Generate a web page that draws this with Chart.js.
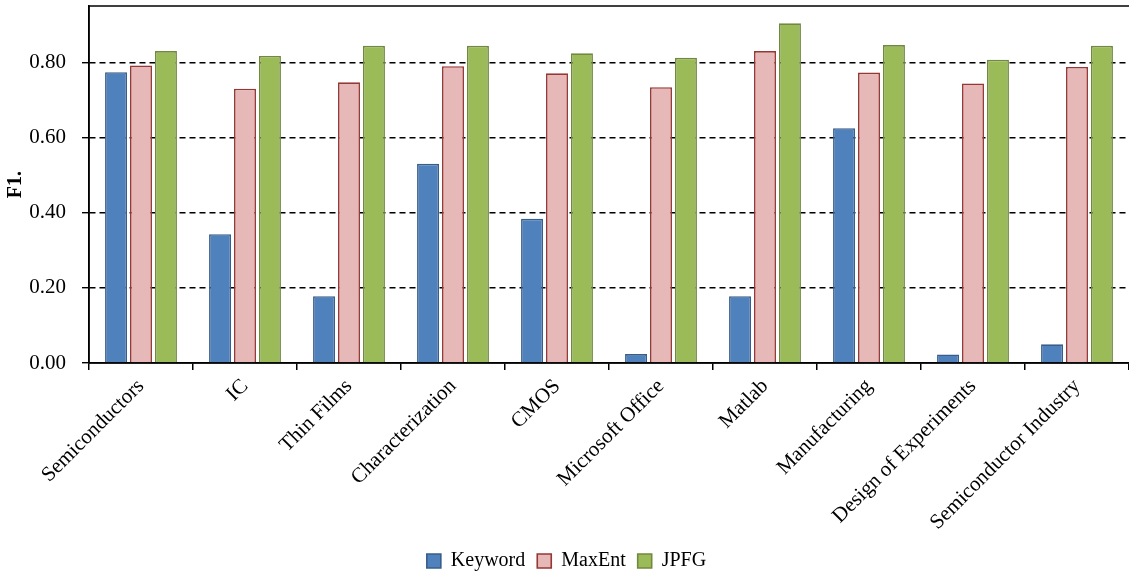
<!DOCTYPE html>
<html><head><meta charset="utf-8">
<script src="https://cdn.jsdelivr.net/npm/chart.js@4.4.1/dist/chart.umd.min.js"></script>
<style>html,body{margin:0;padding:0;background:#fff;}#wrap{width:1129px;height:575px;}</style>
</head><body><div id="wrap"><canvas id="c"></canvas></div>
<script>
const categories = ["Semiconductors","IC","Thin Films","Characterization","CMOS","Microsoft Office","Matlab","Manufacturing","Design of Experiments","Semiconductor Industry"];
const keyword = [0.774,0.343,0.178,0.530,0.384,0.024,0.178,0.625,0.023,0.050];
const maxent  = [0.792,0.730,0.747,0.790,0.771,0.734,0.830,0.773,0.744,0.788];
const jpfg    = [0.830,0.817,0.844,0.844,0.824,0.812,0.904,0.846,0.807,0.844];
const yTicks  = [0,0.2,0.4,0.6,0.8];

const FONT = "'Liberation Serif','Times New Roman',serif";
const frame = {
  id:'frame',
  afterDraw(chart){
    const a = chart.chartArea, ctx = chart.ctx;
    ctx.save(); ctx.strokeStyle='#000'; ctx.lineWidth=1.5; ctx.setLineDash([]);
    ctx.beginPath();
    ctx.moveTo(a.left, a.bottom); ctx.lineTo(a.left, a.top); ctx.lineTo(a.right, a.top);
    ctx.moveTo(a.left, a.bottom); ctx.lineTo(a.right, a.bottom);
    ctx.stroke(); ctx.restore();
  }
};
function build(){
  Chart.defaults.font.family = FONT;
  new Chart(document.getElementById('c'), {
    type:'bar',
    data:{
      labels:categories,
      datasets:[
        {label:'Keyword', data:keyword, backgroundColor:'#4F81BD', borderColor:'#385D8A', borderWidth:1.6},
        {label:'MaxEnt', data:maxent, backgroundColor:'#E6B9B8', borderColor:'#953735', borderWidth:1.6},
        {label:'JPFG', data:jpfg, backgroundColor:'#9BBB59', borderColor:'#71893F', borderWidth:1.6}
      ]
    },
    options:{
      responsive:true, maintainAspectRatio:false, animation:false,
      layout:{padding:{left:4,right:0,top:6,bottom:-6}},
      datasets:{bar:{categoryPercentage:0.72, barPercentage:0.88}},
      plugins:{
        legend:{position:'bottom', labels:{font:{family:FONT,size:20}, color:'#000', boxWidth:14, boxHeight:14, padding:12}},
        tooltip:{enabled:false}
      },
      scales:{
        x:{
          afterFit(s){ s.paddingLeft = 0; s.paddingRight = 0; },
          grid:{display:true, offset:true, drawOnChartArea:false, drawTicks:true, tickLength:7, color:'#000', lineWidth:1.5},
          border:{display:true, color:'#000', width:1.5},
          ticks:{font:{family:FONT,size:21}, color:'#000', minRotation:45, maxRotation:45, padding:4}
        },
        y:{
          min:0, max:0.95,
          afterBuildTicks(s){ s.ticks = yTicks.map(v=>({value:v})); },
          afterFit(s){ s.width = 85; s.paddingTop = 0; s.paddingBottom = 0; },
          grid:{color:(c)=> c.tick && c.tick.value===0 ? 'rgba(0,0,0,0)' : '#000', lineWidth:1.4, tickBorderDash:[0,0], tickColor:'#000', tickLength:7, drawTicks:true},
          border:{display:true, color:'#000', width:1.5, dash:[6,4]},
          ticks:{font:{family:FONT,size:21}, color:'#000', padding:16, callback:(v)=>Number(v).toFixed(2)},
          title:{display:true, text:'F1.', font:{family:FONT,size:20,weight:'bold'}, color:'#000', padding:{top:0,bottom:2}}
        }
      }
    },
    plugins:[frame]
  });
}
let built = false;
function go(){ if(!built){ built = true; build(); } }
if (document.fonts && document.fonts.load) {
  Promise.all([
    document.fonts.load("21px 'Liberation Serif'"),
    document.fonts.load("bold 20px 'Liberation Serif'")
  ]).then(go, go);
  setTimeout(go, 800);
} else { go(); }
</script></body></html>
